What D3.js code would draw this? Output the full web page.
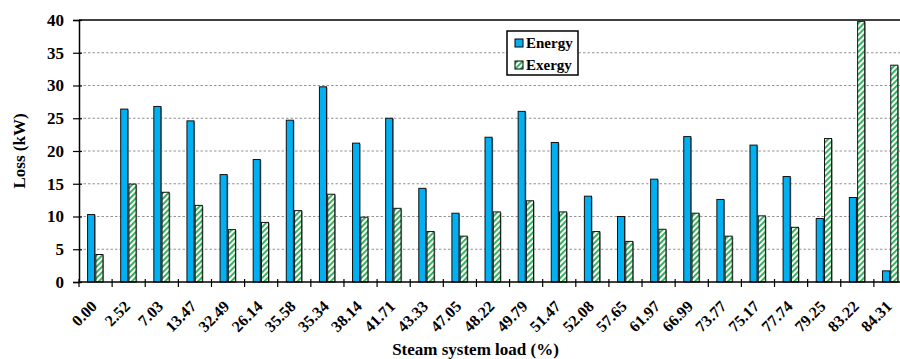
<!DOCTYPE html>
<html>
<head>
<meta charset="utf-8">
<script src="https://cdn.jsdelivr.net/npm/d3@7/dist/d3.min.js"></script>
<style>
  html, body { margin: 0; padding: 0; background: #fff; }
  svg { display: block; font-family: "Liberation Serif", "Times New Roman", serif; font-weight: bold; }
</style>
</head>
<body>
<svg id="chart" width="900" height="359"></svg>
<script>
// Steam system load categories (%)
const loads = ["0.00","2.52","7.03","13.47","32.49","26.14","35.58","35.34","38.14","41.71",
  "43.33","47.05","48.22","49.79","51.47","52.08","57.65","61.97","66.99","73.77",
  "75.17","77.74","79.25","83.22","84.31"];
// Energy loss (kW)
const energyLoss = [10.3,26.4,26.8,24.6,16.4,18.7,24.7,29.8,21.2,25.0,
  14.3,10.5,22.1,26.05,21.3,13.1,10.0,15.7,22.2,12.6,
  20.9,16.1,9.7,12.9,1.7];
// Exergy loss (kW)
const exergyLoss = [4.2,14.95,13.7,11.7,8.0,9.1,10.9,13.4,9.9,11.25,
  7.7,7.0,10.7,12.4,10.7,7.7,6.2,8.05,10.5,7.0,
  10.1,8.35,21.9,39.8,33.1];
const seriesNames = ["Energy", "Exergy"];
const yTicks = [0,5,10,15,20,25,30,35,40];

const svg = d3.select("#chart");
const plotLeft = 79, plotTop = 20, plotBottom = 282, bandW = 33.12;
const plotRight = plotLeft + bandW * loads.length;

const x = d3.scaleBand().domain(loads).range([plotLeft, plotRight]).paddingInner(0).paddingOuter(0);
const xs = d3.scaleBand().domain(seriesNames).range([x.bandwidth() * 0.25, x.bandwidth() * 0.75]).padding(0);
const y = d3.scaleLinear().domain([0, 40]).range([plotBottom, plotTop]);

// Diagonal stripe pattern for exergy bars
const defs = svg.append("defs");
const pat = defs.append("pattern")
  .attr("id", "stripes").attr("patternUnits", "userSpaceOnUse")
  .attr("width", 4).attr("height", 4)
  .attr("patternTransform", "rotate(45)");
pat.append("rect").attr("width", 4).attr("height", 4).attr("fill", "#fff");
pat.append("rect").attr("x", 0).attr("width", 1.8).attr("height", 4).attr("fill", "#1fae4a");

// Gridlines
svg.append("g").selectAll("line").data(yTicks.filter(t => t > 0 && t < 40)).join("line")
  .attr("x1", plotLeft).attr("x2", plotRight)
  .attr("y1", d => y(d)).attr("y2", d => y(d))
  .attr("stroke", "#888").attr("stroke-width", 0.9).attr("stroke-dasharray", "2.5,2");

// Top border
svg.append("line").attr("x1", plotLeft).attr("x2", plotRight).attr("y1", y(40)).attr("y2", y(40))
  .attr("stroke", "#000").attr("stroke-width", 1.5);

// Bars
const rows = loads.map((l, i) => ({ load: l, Energy: energyLoss[i], Exergy: exergyLoss[i] }));
const groups = svg.append("g").selectAll("g").data(rows).join("g")
  .attr("transform", d => `translate(${x(d.load)},0)`);

seriesNames.forEach(name => {
  // soft shadow
  groups.append("rect")
    .attr("x", xs(name) + 1.2).attr("y", d => y(d[name]) + 0.8)
    .attr("width", xs.bandwidth() - 1).attr("height", d => y(0) - y(d[name]) - 0.8)
    .attr("fill", "#8a8a8a");
  groups.append("rect")
    .attr("x", xs(name) + 0.3).attr("y", d => y(d[name]))
    .attr("width", xs.bandwidth() - 1.2).attr("height", d => y(0) - y(d[name]))
    .attr("fill", name === "Energy" ? "#00b0f0" : "url(#stripes)")
    .attr("stroke", "#111").attr("stroke-width", 1);
});

// Y axis
const yAxis = svg.append("g").attr("transform", `translate(${plotLeft},0)`)
  .call(d3.axisLeft(y).tickValues(yTicks).tickSize(6).tickPadding(9).tickFormat(d3.format("d")));
yAxis.select(".domain").attr("stroke", "#000").attr("stroke-width", 1.5);
yAxis.selectAll(".tick line").attr("x1", 3).attr("stroke", "#000").attr("stroke-width", 1.2);
yAxis.selectAll("text").attr("font-size", 17).attr("font-weight", "bold")
  .attr("font-family", "Liberation Serif").attr("fill", "#000");

// X axis: ticks at category boundaries
const xAxisG = svg.append("g");
xAxisG.append("line").attr("x1", plotLeft).attr("x2", plotRight).attr("y1", plotBottom).attr("y2", plotBottom)
  .attr("stroke", "#000").attr("stroke-width", 1.5);
xAxisG.selectAll("line.tk").data(loads).join("line").attr("class", "tk")
  .attr("x1", d => x(d)).attr("x2", d => x(d))
  .attr("y1", plotBottom - 3).attr("y2", plotBottom + 5)
  .attr("stroke", "#000").attr("stroke-width", 1.2);
xAxisG.selectAll("text").data(loads).join("text")
  .attr("transform", d => `translate(${x(d) + x.bandwidth() / 2 - 1.5},${plotBottom + 21.5}) rotate(-45)`)
  .attr("text-anchor", "end").attr("dy", "0.35em")
  .attr("font-size", 16).attr("fill", "#000")
  .text(d => d);

// Axis titles
svg.append("text")
  .attr("transform", `translate(25,${(plotTop + plotBottom) / 2}) rotate(-90)`)
  .attr("text-anchor", "middle").attr("font-size", 17).attr("fill", "#000")
  .text("Loss (kW)");
svg.append("text")
  .attr("x", 475.5).attr("y", 355)
  .attr("text-anchor", "middle").attr("font-size", 17).attr("fill", "#000")
  .text("Steam system load (%)");

// Legend
const lg = svg.append("g");
lg.append("rect").attr("x", 507).attr("y", 31).attr("width", 71).attr("height", 44)
  .attr("fill", "#fff").attr("stroke", "#000").attr("stroke-width", 1.5);
seriesNames.forEach((name, i) => {
  const cy = 43 + i * 22;
  lg.append("rect").attr("x", 515).attr("y", cy - 4).attr("width", 8).attr("height", 8)
    .attr("fill", name === "Energy" ? "#00b0f0" : "url(#stripes)")
    .attr("stroke", "#000").attr("stroke-width", 1);
  lg.append("text").attr("x", 526).attr("y", cy + 5)
    .attr("font-size", 15).attr("fill", "#000").text(name);
});
</script>
</body>
</html>
